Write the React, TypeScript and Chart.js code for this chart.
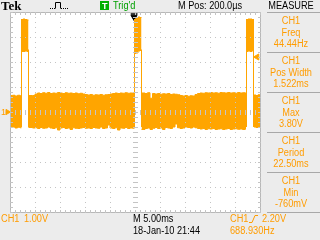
import React, { useEffect, useRef } from "react";
import { Chart, registerables } from "chart.js";

Chart.register(...registerables);

const TRACE = "#ffa500";
const TEXT_ORANGE = "#ff9c00";
const GRID = "#c4c4c4";
const BG = "#ececec";

// ---- scale settings (5 ms/div, 1 V/div) ----
const timeMin = -25;
const timeMax = 25;
const voltMin = -4;
const voltMax = 4;

// ---- noise band (signal envelope), ms / V, null = gap during a pulse ----
const bandTimes = [
  -25, -24.5, -24, -23.5, -23, -22.7,
  -22,
  -21.3, -20.5, -20, -19.5, -19, -18.5, -18, -17.5, -17, -16.5, -16, -15.5, -15, -14.5, -14, -13.5, -13, -12.5, -12,
  -11.5, -11, -10.5, -10, -9.5, -9, -8.5, -8, -7.5, -7, -6.5, -6, -5.5, -5, -4.5, -4, -3.5, -3, -2.5, -2, -1.5, -1, -0.5, -0.1,
  0.5,
  1.3, 2, 2.5, 3, 3.5, 4, 4.5, 5, 5.5, 6, 6.5, 7, 7.5, 8, 8.5, 9, 9.5, 10, 10.5, 11, 11.5, 12, 12.5, 13, 13.5,
  14, 14.5, 15, 15.5, 16, 16.5, 17, 17.5, 18, 18.5, 19, 19.5, 20, 20.5, 21, 21.5, 22, 22.2,
  23,
  23.8, 24.2, 24.6, 25,
];
const bandHigh = [
  0.66, 0.67, 0.64, 0.67, 0.65, 0.65,
  null,
  0.66, 0.66, 0.72, 0.76, 0.74, 0.77, 0.75, 0.78, 0.74, 0.76, 0.75, 0.78, 0.76, 0.74, 0.77, 0.75, 0.76, 0.74, 0.76,
  0.73, 0.75, 0.72, 0.7, 0.68, 0.7, 0.67, 0.69, 0.68, 0.7, 0.67, 0.69, 0.7, 0.72, 0.74, 0.76, 0.74, 0.76, 0.75, 0.77, 0.75, 0.76, 0.76, 0.76,
  null,
  0.76, 0.74, 0.77, 0.55, 0.74, 0.72, 0.74, 0.71, 0.73, 0.72, 0.74, 0.7, 0.72, 0.71, 0.69, 0.66, 0.64, 0.66, 0.63, 0.65, 0.64, 0.7, 0.74, 0.76, 0.75,
  0.77, 0.76, 0.78, 0.76, 0.77, 0.75, 0.78, 0.77, 0.76, 0.78, 0.76, 0.77, 0.75, 0.78, 0.76, 0.77, 0.76, 0.76,
  null,
  0.68, 0.66, 0.69, 0.69,
];
const bandLow = [
  -0.62, -0.6, -0.64, -0.61, -0.63, -0.63,
  null,
  -0.62, -0.64, -0.63, -0.66, -0.62, -0.65, -0.64, -0.6, -0.64, -0.66, -0.63, -0.72, -0.64, -0.62, -0.66, -0.64, -0.7, -0.63, -0.65,
  -0.66, -0.64, -0.62, -0.65, -0.64, -0.66, -0.62, -0.64, -0.65, -0.6, -0.66, -0.64, -0.52, -0.64, -0.66, -0.63, -0.72, -0.64, -0.65, -0.62, -0.66, -0.64, -0.65, -0.65,
  null,
  -0.7, -0.66, -0.64, -0.7, -0.65, -0.62, -0.66, -0.64, -0.7, -0.62, -0.64, -0.66, -0.6, -0.48, -0.63, -0.66, -0.64, -0.6, -0.62, -0.64, -0.6, -0.63, -0.66, -0.68, -0.66,
  -0.7, -0.67, -0.68, -0.66, -0.7, -0.68, -0.67, -0.7, -0.68, -0.66, -0.7, -0.68, -0.67, -0.69, -0.68, -0.7, -0.68, -0.68,
  null,
  -0.6, -0.62, -0.6, -0.6,
];

// ---- pulses (high level block), ms / V ----
const pulseTimes = [-22.8, -22.4, -22.0, -21.6, -21.3, -10, -0.2, 0.2, 0.6, 1.0, 1.3, 12, 22.2, 22.6, 23.0, 23.4, 23.8];
const pulseHigh = [3.7, 3.72, 3.7, 3.68, 3.68, null, 3.7, 3.78, 3.8, 3.78, 3.78, null, 3.7, 3.72, 3.72, 3.7, 3.7];
const pulseLow = [2.42, 2.42, 2.44, 2.42, 2.42, null, 2.34, 2.36, 2.44, 2.46, 2.46, null, 2.42, 2.44, 2.42, 2.45, 2.45];

// ---- pulse edges ----
const edgeTimes = [-22.7, -21.3, -0.1, 1.3, 22.3, 23.7];
const edgeBottom = -0.6;
const edgeTop = 2.5;

// ---- markers ----
const triggerTime = -0.2;
const triggerMarkVolt = 3.8;
const triggerBarVolt = 3.92;
const triggerLevelTime = 24.4;
const triggerLevel = 2.2;
const groundTime = -25.5;
const groundLevel = 0;

// ---- texts ----
const measureNames = ["Freq", "Pos Width", "Max", "Period", "Min"];
const measureValues = ["44.44Hz", "1.522ms", "3.80V", "22.50ms", "-760mV"];

const pts = (times: number[], vals: (number | null)[]) =>
  times.map((t, i) => ({ x: t, y: vals[i] }));

const scopePlugin = {
  id: "scopeGraticule",
  beforeDraw(chart: any) {
    const { ctx, chartArea: a } = chart;
    ctx.save();
    ctx.fillStyle = "#ffffff";
    ctx.fillRect(a.left, a.top, a.right - a.left + 1, a.bottom - a.top + 1);
    ctx.restore();
  },
  afterDatasetsDraw(chart: any) {
    const { ctx, chartArea: a } = chart;
    const xs = chart.scales.x;
    const ys = chart.scales.y;
    const px = (v: number) => Math.round(xs.getPixelForValue(v));
    const py = (v: number) => Math.round(ys.getPixelForValue(v));
    const xMinor: number[] = [];
    for (let i = 0; i <= 50; i++) xMinor.push(px(timeMin + i));
    const yMinor: number[] = [];
    for (let i = 0; i <= 40; i++) yMinor.push(py(voltMin + i * 0.2));
    ctx.save();
    ctx.fillStyle = GRID;
    // division lines (dotted)
    for (let d = 1; d < 10; d++) {
      const X = px(timeMin + d * 5);
      const center = d === 5;
      yMinor.forEach((Y) => {
        if (center) ctx.fillRect(X - 2, Y, 5, 1);
        else ctx.fillRect(X, Y, 1, 1);
      });
    }
    for (let d = 1; d < 8; d++) {
      const Y = py(voltMin + d);
      const center = d === 4;
      xMinor.forEach((X) => {
        if (center) ctx.fillRect(X, Y - 2, 1, 5);
        else ctx.fillRect(X, Y, 1, 1);
      });
    }
    // border with inward ticks
    const L = px(timeMin), R = px(timeMax), T = py(voltMax), B = py(voltMin);
    ctx.fillStyle = "#b8b8b8";
    ctx.fillRect(L, T, R - L + 1, 1);
    ctx.fillRect(L, B, R - L + 1, 1);
    ctx.fillRect(L, T, 1, B - T + 1);
    ctx.fillRect(R, T, 1, B - T + 1);
    ctx.fillStyle = GRID;
    xMinor.forEach((X) => {
      ctx.fillRect(X, T, 1, 3);
      ctx.fillRect(X, B - 2, 1, 3);
    });
    yMinor.forEach((Y) => {
      ctx.fillRect(L, Y, 3, 1);
      ctx.fillRect(R - 2, Y, 3, 1);
    });
    ctx.restore();
  },
};

const FONT = '"Liberation Sans", Arial, sans-serif';

function Txt(props: {
  x: number;
  y: number;
  text: string;
  color?: string;
  size?: number;
  center?: boolean;
  sx?: number;
  bold?: boolean;
  family?: string;
}) {
  const { x, y, text, color = "#000", size = 10, center, sx = 0.92, bold, family = FONT } = props;
  const style: any = {
    position: "absolute",
    top: y - 7,
    height: 14,
    lineHeight: "14px",
    fontSize: size,
    fontFamily: family,
    fontWeight: bold ? "bold" : "normal",
    color,
    whiteSpace: "nowrap",
    transform: `scaleX(${sx})`,
  };
  if (center) {
    style.left = 262;
    style.width = 58;
    style.textAlign = "center";
    style.transformOrigin = "50% 50%";
  } else {
    style.left = x;
    style.transformOrigin = "0 50%";
  }
  return <div style={style}>{text}</div>;
}

export default function App() {
  const ref = useRef<HTMLCanvasElement | null>(null);

  useEffect(() => {
    const canvas = ref.current;
    if (!canvas) return;
    const common = {
      type: "line",
      borderColor: TRACE,
      backgroundColor: TRACE,
      borderWidth: 1,
      pointRadius: 0,
      stepped: true,
      spanGaps: false,
    };
    const chart = new Chart(canvas, {
      type: "line",
      data: {
        datasets: [
          { ...common, label: "band high", data: pts(bandTimes, bandHigh), fill: false },
          { ...common, label: "band low", data: pts(bandTimes, bandLow), fill: "-1" },
          { ...common, label: "pulse high", data: pts(pulseTimes, pulseHigh), fill: false },
          { ...common, label: "pulse low", data: pts(pulseTimes, pulseLow), fill: "-1" },
          {
            ...common,
            label: "edges",
            stepped: false,
            fill: false,
            data: edgeTimes.flatMap((t) => [
              { x: t, y: edgeBottom },
              { x: t, y: edgeTop },
              { x: t, y: null },
            ]),
          },
          {
            type: "scatter",
            label: "trigger",
            data: [{ x: triggerTime, y: triggerMarkVolt }],
            pointStyle: "triangle",
            rotation: 180,
            pointRadius: 3.5,
            backgroundColor: "#000",
            borderColor: "#000",
            borderWidth: 1,
            clip: false,
          },
          {
            type: "scatter",
            label: "trigger bar",
            data: [{ x: triggerTime, y: triggerBarVolt }],
            pointStyle: "line",
            pointRadius: 3.5,
            borderColor: "#000",
            borderWidth: 1.5,
            clip: false,
          },
          {
            type: "scatter",
            label: "trigger level",
            data: [{ x: triggerLevelTime, y: triggerLevel }],
            pointStyle: "triangle",
            rotation: 270,
            pointRadius: 3.5,
            backgroundColor: TRACE,
            borderColor: TRACE,
            borderWidth: 1,
            clip: false,
          },
          {
            type: "scatter",
            label: "ground",
            data: [{ x: groundTime, y: groundLevel }],
            pointStyle: "triangle",
            rotation: 90,
            pointRadius: 3,
            backgroundColor: TRACE,
            borderColor: TRACE,
            borderWidth: 1,
            clip: false,
          },
        ] as any,
      },
      options: {
        animation: false,
        responsive: false,
        events: [],
        layout: { padding: { left: 10, right: 60, top: 12, bottom: 28 } },
        plugins: {
          legend: { display: false },
          tooltip: { enabled: false },
        },
        scales: {
          x: { type: "linear", min: timeMin, max: timeMax, display: false },
          y: { type: "linear", min: voltMin, max: voltMax, display: false },
        },
      },
      plugins: [scopePlugin],
    } as any);
    return () => chart.destroy();
  }, []);

  const sepYs = [12, 52, 92, 132, 172, 212];

  return (
    <div
      style={{
        position: "fixed",
        left: 0,
        top: 0,
        width: 320,
        height: 240,
        background: BG,
        overflow: "hidden",
      }}
    >
      <canvas ref={ref} width={320} height={240} style={{ position: "absolute", left: 0, top: 0, width: 320, height: 240 }} />
      <svg width={320} height={240} style={{ position: "absolute", left: 0, top: 0 }}>
        {/* pulse icon */}
        <polyline points="50,8.5 55,8.5" stroke="#000" strokeWidth={1} strokeDasharray="1,1" fill="none" />
        <polyline points="55.5,8.5 55.5,2.5 60.5,2.5 60.5,8.5" stroke="#000" strokeWidth={1} fill="none" />
        <polyline points="61,8.5 68,8.5" stroke="#000" strokeWidth={1} strokeDasharray="1,1" fill="none" />
        {/* rising edge symbol */}
        <polyline points="249,222.5 252,222.5 255,215.5 258,215.5" stroke={TEXT_ORANGE} strokeWidth={1} fill="none" />
        {/* measure separators */}
        {sepYs.map((y) => (
          <line key={y} x1={267} x2={320} y1={y + 0.5} y2={y + 0.5} stroke="#a8a8a8" strokeWidth={1} />
        ))}
        {/* trigger box */}
        <rect x={100} y={1} width={9} height={9} fill="#00b000" />
      </svg>
      <Txt x={1} y={6} text="Tek" size={13} bold sx={1} family='"Liberation Serif", "Times New Roman", serif' />
      <Txt x={102} y={5.5} text="T" size={9} bold color="#fff" sx={1} />
      <Txt x={113} y={6} text="Trig'd" color="#00a000" />
      <Txt x={178} y={6} text="M Pos: 200.0µs" />
      <Txt x={0} y={6} text="MEASURE" center />
      {measureNames.map((n, i) => (
        <React.Fragment key={n}>
          <Txt x={0} y={sepYs[i] + 8.5} text="CH1" color={TEXT_ORANGE} center />
          <Txt x={0} y={sepYs[i] + 20.5} text={n} color={TEXT_ORANGE} center />
          <Txt x={0} y={sepYs[i] + 32} text={measureValues[i]} color={TEXT_ORANGE} center />
        </React.Fragment>
      ))}
      <Txt x={1} y={112} text="1" color={TEXT_ORANGE} size={9} sx={1} />
      <Txt x={1} y={218.5} text="CH1" color={TEXT_ORANGE} />
      <Txt x={24} y={218.5} text="1.00V" color={TEXT_ORANGE} />
      <Txt x={133} y={218.5} text="M 5.00ms" />
      <Txt x={133} y={231} text="18-Jan-10 21:44" />
      <Txt x={230} y={218.5} text="CH1" color={TEXT_ORANGE} />
      <Txt x={262} y={218.5} text="2.20V" color={TEXT_ORANGE} />
      <Txt x={230} y={231} text="688.930Hz" color={TEXT_ORANGE} />
    </div>
  );
}
